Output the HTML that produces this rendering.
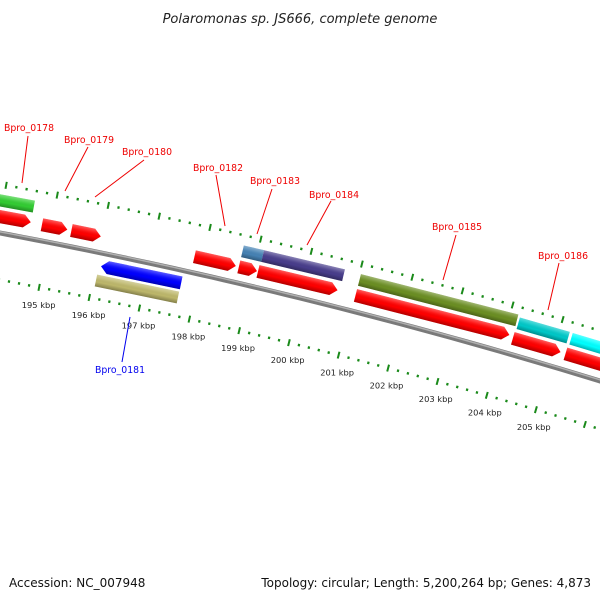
<!DOCTYPE html>
<html><head><meta charset="utf-8">
<style>
html,body{margin:0;padding:0;background:#fff;}
svg{display:block;}
text{font-family:"DejaVu Sans","Liberation Sans",sans-serif;}
</style></head>
<body>
<svg id="map" width="600" height="600" viewBox="0 0 600 600" xmlns="http://www.w3.org/2000/svg">
<defs>
<linearGradient id="shade" x1="0" y1="0" x2="0" y2="1">
<stop offset="0" stop-color="#fff" stop-opacity="0.35"/>
<stop offset="0.3" stop-color="#fff" stop-opacity="0.1"/>
<stop offset="0.6" stop-color="#000" stop-opacity="0"/>
<stop offset="1" stop-color="#000" stop-opacity="0.3"/>
</linearGradient>
</defs>
<text x="300" y="23" text-anchor="middle" font-size="13" font-style="italic" fill="#222">Polaromonas sp. JS666, complete genome</text>
<g id="ticks"></g>
<g id="backbone"></g>
<g id="features"></g>
<g id="labels"></g>
<text x="9" y="587" font-size="12" fill="#111">Accession: NC_007948</text>
<text x="591" y="587" text-anchor="end" font-size="12" fill="#111">Topology: circular; Length: 5,200,264 bp; Genes: 4,873</text>
</svg>
<script>
// ---- data (kbp) ----
var fwdNames  = ["f1","f2","f3","f4","f5","f6","f7","f8","f9"];
var fwdStart  = [193.5,194.82,195.40,197.83,198.71,199.09,201.03,204.18,205.24];
var fwdEnd    = [194.6,195.32,195.98,198.65,199.07,200.67,204.10,205.14,206.6];
var outNames  = ["Bpro_0178","Bpro_0183","Bpro_0184","Bpro_0185","Bpro_0186","Bpro_0187"];
var outStart  = [193.5,198.71,199.11,201.03,204.20,205.26];
var outEnd    = [194.6,199.11,200.71,204.16,205.20,206.6];
var outColors = ["#33cc33","#4682b4","#483d8b","#6b8e23","#00c8c8","#00ffff"];
var revInStart = [196.10], revInEnd = [197.69], revInColors = ["#0000ff"];
var revOutStart = [196.06], revOutEnd = [197.69], revOutColors = ["#bdb76b"];
var tickLabels = [195,196,197,198,199,200,201,202,203,204,205];

// ---- geometry ----
var NS="http://www.w3.org/2000/svg";
function circ(p1,p2,p3){
  var ax=p1[0],ay=p1[1],bx=p2[0],by=p2[1],cx=p3[0],cy=p3[1];
  var d=2*(ax*(by-cy)+bx*(cy-ay)+cx*(ay-by));
  var ux=((ax*ax+ay*ay)*(by-cy)+(bx*bx+by*by)*(cy-ay)+(cx*cx+cy*cy)*(ay-by))/d;
  var uy=((ax*ax+ay*ay)*(cx-bx)+(bx*bx+by*by)*(ax-cx)+(cx*cx+cy*cy)*(bx-ax))/d;
  return [ux,uy,Math.hypot(ax-ux,ay-uy)];
}
var C=circ([0,233],[300,298],[600,381]);
var CX=C[0],CY=C[1],R=C[2];
function angAtX(x){return Math.asin((x-CX)/R);}
var a195=angAtX(48), a205=angAtX(549);
function ang(k){return a195+(k-195)*(a205-a195)/10;}
function pt(k,r){var a=ang(k);return [CX+(R+r)*Math.sin(a),CY-(R+r)*Math.cos(a)];}
function el(tag,attrs,parent){var e=document.createElementNS(NS,tag);for(var k in attrs)e.setAttribute(k,attrs[k]);parent.appendChild(e);return e;}

// backbone
var bb=document.getElementById('backbone');
var d="";for(var k=192;k<=207;k+=0.25){var p=pt(k,0);d+=(d?"L":"M")+p[0].toFixed(2)+","+p[1].toFixed(2);}
var bl=el('path',{d:d,fill:"none",stroke:"#7a7a7a","stroke-width":5},bb);


var bh=el('path',{d:d,fill:"none",stroke:"#b0b0b0","stroke-width":1.5,transform:"translate(0,-1.2)"},bb);



// ticks
var tg=document.getElementById('ticks');
function tick(k,r,len,w){
  var p1=pt(k,r-len/2),p2=pt(k,r+len/2);
  var t=el('line',{x1:p1[0],y1:p1[1],x2:p2[0],y2:p2[1],stroke:"#1a8a1a","stroke-width":w},tg);
  
  
}
for(var i=1920;i<=2070;i+=2){
  var k=i/10, major=(i%10===0);
  tick(k,48,major?7:2.5,major?2:2.2);
  tick(k,-46,major?7:2.5,major?2:2.2);
}
tickLabels.forEach(function(v){
  var p=pt(v,-64);
  var t=el('text',{x:p[0]+3,y:p[1]+3,"text-anchor":"middle","font-size":"8.3","fill":"#222"},tg);
  t.textContent=v+" kbp";
  
  
});

// features
var fg=document.getElementById('features');
function feature(s,e,r,h,color,dir,name){
  var a=ang(s), p=pt(s,r);
  var len=(ang(e)-a)*(R+r);
  var hd=Math.min(7,len*0.4), y0=-h/2, y1=h/2, pts;
  if(dir>0) pts=[[0,y0],[len-hd,y0],[len,0],[len-hd,y1],[0,y1]];
  else if(dir<0) pts=[[hd,y0],[len,y0],[len,y1],[hd,y1],[0,0]];
  else pts=[[0,y0],[len,y0],[len,y1],[0,y1]];
  var ps=pts.map(function(q){return q[0].toFixed(2)+","+q[1].toFixed(2);}).join(" ");
  var g=el('g',{transform:"translate("+p[0].toFixed(2)+","+p[1].toFixed(2)+") rotate("+(a*180/Math.PI).toFixed(3)+")"},fg);
  
  
  el('polygon',{points:ps,fill:color},g);
  el('polygon',{points:ps,fill:"url(#shade)"},g);
}
fwdStart.forEach(function(s,i){feature(s,fwdEnd[i],16,13,"#ff0000",1,"cds-"+fwdNames[i]);});
outStart.forEach(function(s,i){feature(s,outEnd[i],32,12,outColors[i],0,"gene-"+outNames[i].toLowerCase());});
revInStart.forEach(function(s,i){feature(s,revInEnd[i],-13,13,revInColors[i],-1,"cds-bpro-0181");});
revOutStart.forEach(function(s,i){feature(s,revOutEnd[i],-28,12,revOutColors[i],0,"gene-bpro-0181");});

// labels
var labNames=["Bpro_0178","Bpro_0179","Bpro_0180","Bpro_0182","Bpro_0183","Bpro_0184","Bpro_0185","Bpro_0186","Bpro_0181"];
var labText=[[4,131],[64,143],[122,155],[193,171],[250,184],[309,198],[432,230],[538,259],[95,373]];
var labLine=[[28,136,22,183],[88,147,65,191],[144,160,95,197],[216,175,225,226],[272,189,257,234],[331,201,307,245],[456,235,443,280],[559,263,548,310],[122,362,130,317]];
var lg=document.getElementById('labels');
labNames.forEach(function(n,i){
  var c=(i===8)?"#0000ee":"#ee0000";
  var ln=el('line',{x1:labLine[i][0],y1:labLine[i][1],x2:labLine[i][2],y2:labLine[i][3],stroke:c,"stroke-width":1},lg);
  
  
  var t=el('text',{x:labText[i][0],y:labText[i][1],"font-size":"10",fill:c,textLength:"50",lengthAdjust:"spacingAndGlyphs"},lg);
  t.textContent=n;
  
  
});
</script>
</body></html>
